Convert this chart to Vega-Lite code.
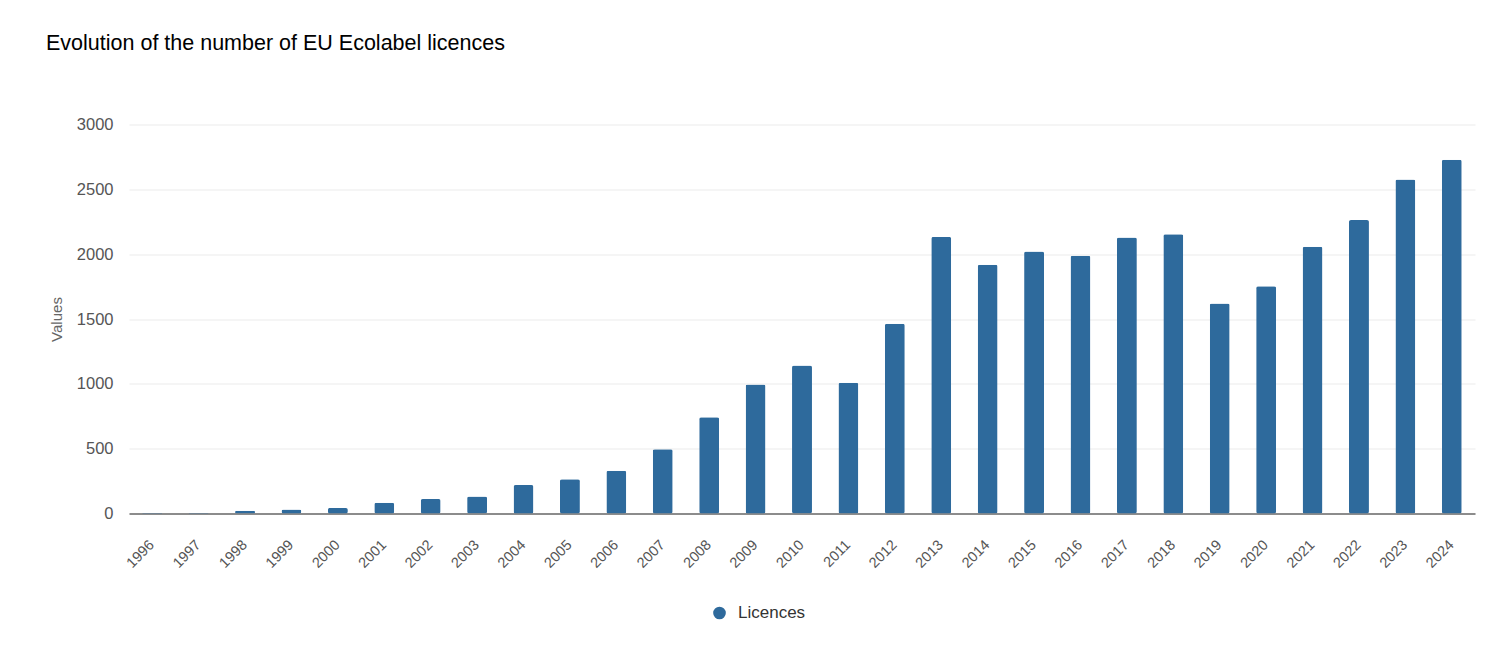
{
  "$schema": "https://vega.github.io/schema/vega-lite/v6.json",
  "width": 1346,
  "height": 389,
  "autosize": {"type": "none"},
  "padding": {"left": 129, "top": 124.5, "right": 24, "bottom": 132.5},
  "background": "white",
  "title": {
    "text": "Evolution of the number of EU Ecolabel licences",
    "anchor": "start",
    "frame": "group",
    "orient": "top",
    "font": "Liberation Sans",
    "fontSize": 21.5,
    "fontWeight": "normal",
    "color": "#000000",
    "baseline": "alphabetic",
    "dx": -83,
    "offset": 45
  },
  "data": {
    "values": [
      {"year": "1996", "licences": 3},
      {"year": "1997", "licences": 4},
      {"year": "1998", "licences": 21},
      {"year": "1999", "licences": 31},
      {"year": "2000", "licences": 42},
      {"year": "2001", "licences": 83},
      {"year": "2002", "licences": 111},
      {"year": "2003", "licences": 131},
      {"year": "2004", "licences": 219},
      {"year": "2005", "licences": 265},
      {"year": "2006", "licences": 329},
      {"year": "2007", "licences": 495},
      {"year": "2008", "licences": 743},
      {"year": "2009", "licences": 995},
      {"year": "2010", "licences": 1141},
      {"year": "2011", "licences": 1008},
      {"year": "2012", "licences": 1463},
      {"year": "2013", "licences": 2133},
      {"year": "2014", "licences": 1918},
      {"year": "2015", "licences": 2021},
      {"year": "2016", "licences": 1987},
      {"year": "2017", "licences": 2129},
      {"year": "2018", "licences": 2154},
      {"year": "2019", "licences": 1620},
      {"year": "2020", "licences": 1753},
      {"year": "2021", "licences": 2057},
      {"year": "2022", "licences": 2263},
      {"year": "2023", "licences": 2575},
      {"year": "2024", "licences": 2729}
    ]
  },
  "mark": {"type": "bar", "cornerRadius": 2},
  "encoding": {
    "x": {
      "field": "year",
      "type": "ordinal",
      "scale": {"paddingInner": 0.57, "paddingOuter": 0.285},
      "axis": {
        "title": null,
        "labelAngle": -45,
        "labelAlign": "right",
        "labelBaseline": "middle",
        "labelPadding": 29,
        "labelFont": "Liberation Sans",
        "labelFontSize": 14.5,
        "labelColor": "#555555",
        "ticks": false,
        "domainColor": "#8c8c8c",
        "domainWidth": 2,
        "grid": false
      }
    },
    "y": {
      "field": "licences",
      "type": "quantitative",
      "scale": {"domain": [0, 3000], "nice": false},
      "axis": {
        "title": "Values",
        "titleFont": "Liberation Sans",
        "titleFontSize": 15,
        "titleFontWeight": "normal",
        "titleColor": "#666666",
        "titlePadding": 12,
        "values": [0, 500, 1000, 1500, 2000, 2500, 3000],
        "format": "d",
        "labelFont": "Liberation Sans",
        "labelFontSize": 16.5,
        "labelColor": "#555555",
        "labelPadding": 16,
        "ticks": false,
        "domain": false,
        "grid": true,
        "gridColor": "#ebebeb",
        "gridWidth": 1
      }
    },
    "color": {
      "datum": "Licences",
      "type": "nominal",
      "scale": {"range": ["#2e6a9c"]},
      "legend": {
        "title": null,
        "orient": "none",
        "legendX": 582,
        "legendY": 480,
        "symbolType": "circle",
        "symbolSize": 160,
        "symbolOpacity": 1,
        "labelFont": "Liberation Sans",
        "labelFontSize": 17,
        "labelColor": "#333333",
        "labelOffset": 10
      }
    }
  },
  "config": {"view": {"stroke": null}}
}
